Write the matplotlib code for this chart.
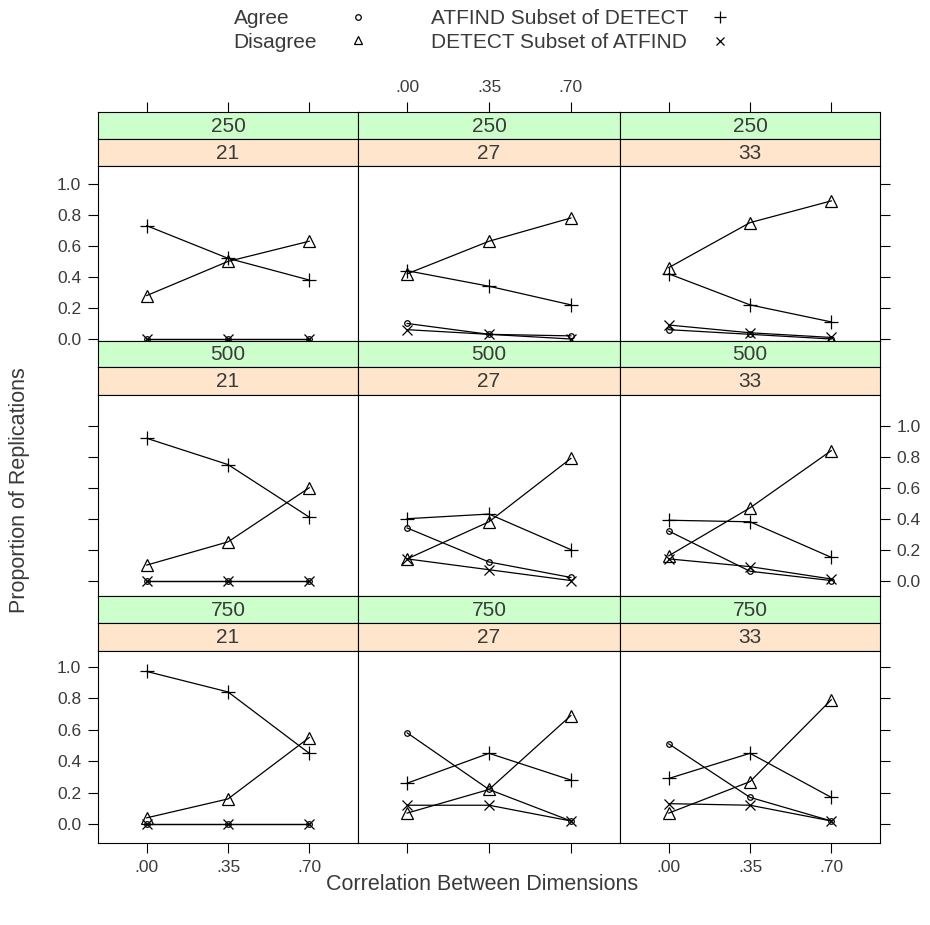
import matplotlib.pyplot as plt

plt.rcParams['font.family'] = ['Liberation Sans', 'DejaVu Sans']

# ----------------------------
# Data
# ----------------------------
corr = [0.00, 0.35, 0.70]
corr_labels = ['.00', '.35', '.70']
sample_sizes = [250, 500, 750]
test_lengths = [21, 27, 33]

# proportion of replications: [sample size][test length] -> values at corr
agree = [
    [[0.00, 0.00, 0.00], [0.10, 0.03, 0.02], [0.06, 0.03, 0.00]],
    [[0.00, 0.00, 0.00], [0.34, 0.12, 0.02], [0.32, 0.06, 0.00]],
    [[0.00, 0.00, 0.00], [0.58, 0.22, 0.02], [0.51, 0.17, 0.02]],
]
disagree = [
    [[0.28, 0.50, 0.63], [0.42, 0.63, 0.78], [0.46, 0.75, 0.89]],
    [[0.10, 0.25, 0.60], [0.14, 0.38, 0.79], [0.16, 0.47, 0.84]],
    [[0.04, 0.16, 0.55], [0.07, 0.22, 0.69], [0.07, 0.27, 0.79]],
]
atfind_sub = [
    [[0.73, 0.52, 0.38], [0.44, 0.34, 0.22], [0.42, 0.22, 0.11]],
    [[0.92, 0.75, 0.41], [0.40, 0.43, 0.20], [0.39, 0.38, 0.15]],
    [[0.97, 0.84, 0.45], [0.26, 0.45, 0.28], [0.29, 0.45, 0.17]],
]
detect_sub = [
    [[0.00, 0.00, 0.00], [0.06, 0.03, 0.00], [0.09, 0.04, 0.01]],
    [[0.00, 0.00, 0.00], [0.14, 0.07, 0.00], [0.14, 0.09, 0.01]],
    [[0.00, 0.00, 0.00], [0.12, 0.12, 0.02], [0.13, 0.12, 0.02]],
]

series = [
    (agree, 'o', 4),
    (disagree, '^', 8.5),
    (atfind_sub, '+', 10),
    (detect_sub, 'x', 7),
]

# ----------------------------
# Layout (pixels)
# ----------------------------
W, H = 930, 925
fig = plt.figure(figsize=(W / 100, H / 100), dpi=100)


def rect(x0, y0, x1, y1):
    return [x0 / W, 1 - y1 / H, (x1 - x0) / W, (y1 - y0) / H]


col_edges = [(98, 358), (358, 620), (620, 880)]
# green top, orange top, panel top, panel bottom
row_edges = [(112, 139, 166, 341), (341, 367, 395, 596), (596, 623, 651, 843)]
ylims = [(-0.013, 1.115), (-0.10, 1.20), (-0.12, 1.10)]
xlim = (-0.21, 0.91)
green = '#ccffcc'
orange = '#ffe5cc'
txt = '#3a3a3a'
tick_kw = dict(direction='out', length=7, width=0.8, labelsize=12.5, pad=5,
               labelcolor=txt)

for r in range(3):
    g0, o0, p0, p1 = row_edges[r]
    for c in range(3):
        x0, x1 = col_edges[c]

        # strips
        for (s0, s1, color, label) in [(g0, o0, green, sample_sizes[r]),
                                       (o0, p0, orange, test_lengths[c])]:
            sax = fig.add_axes(rect(x0, s0, x1, s1))
            sax.set_facecolor(color)
            sax.set_xlim(xlim)
            sax.set_yticks([])
            sax.set_xticks([])
            for sp in sax.spines.values():
                sp.set_linewidth(0.8)
            sax.text(0.5, 0.47, str(label), transform=sax.transAxes,
                     ha='center', va='center', fontsize=15, color=txt)
            # top axis ticks above the first strip
            if r == 0 and color == green:
                sax.xaxis.set_ticks_position('top')
                sax.set_xticks(corr)
                sax.set_xticklabels(corr_labels if c == 1 else [])
                sax.tick_params(axis='x', **tick_kw)

        ax = fig.add_axes(rect(x0, p0, x1, p1))
        for data, marker, ms in series:
            ax.plot(corr, data[r][c], color='black', lw=0.9, marker=marker,
                    ms=ms, mfc='none', mec='black', mew=0.9)
        ax.set_xlim(xlim)
        ax.set_ylim(ylims[r])
        for sp in ax.spines.values():
            sp.set_linewidth(0.8)

        # x ticks only at bottom row
        if r == 2:
            ax.set_xticks(corr)
            ax.set_xticklabels(corr_labels if c != 1 else [])
            ax.tick_params(axis='x', **tick_kw)
        else:
            ax.set_xticks([])

        yt = [0.0, 0.2, 0.4, 0.6, 0.8, 1.0]
        ytl = ['0.0', '0.2', '0.4', '0.6', '0.8', '1.0']
        if c == 0:
            ax.set_yticks(yt)
            ax.set_yticklabels(ytl if r != 1 else [])
            ax.tick_params(axis='y', left=True, right=False, **tick_kw)
        elif c == 2:
            ax.set_yticks(yt)
            ax.yaxis.set_ticks_position('right')
            ax.set_yticklabels(ytl if r == 1 else [])
            ax.tick_params(axis='y', **tick_kw)
        else:
            ax.set_yticks([])

# ----------------------------
# Legend and axis titles
# ----------------------------
leg = fig.add_axes([0, 0, 1, 1], zorder=-1)
leg.set_xlim(0, W)
leg.set_ylim(H, 0)
leg.axis('off')
leg.text(234, 18, 'Agree', fontsize=15, va='center', color=txt)
leg.text(233, 42, 'Disagree', fontsize=15, va='center', color=txt)
leg.text(431, 18, 'ATFIND Subset of DETECT', fontsize=15, va='center', color=txt)
leg.text(431, 42, 'DETECT Subset of ATFIND', fontsize=15, va='center', color=txt)
leg.plot([358], [17], marker='o', ms=4, mfc='none', mec='black', mew=0.9)
leg.plot([358], [40], marker='^', ms=6, mfc='none', mec='black', mew=0.9)
leg.plot([720], [17], marker='+', ms=9, mec='black', mew=0.9)
leg.plot([720], [41], marker='x', ms=6, mec='black', mew=0.9)

leg.text(482, 885, 'Correlation Between Dimensions', fontsize=15.5,
         ha='center', va='center', color=txt)
leg.text(20, 490, 'Proportion of Replications', fontsize=15.5, rotation=90,
         ha='center', va='center', color=txt)

plt.savefig('out.png', dpi=100)
